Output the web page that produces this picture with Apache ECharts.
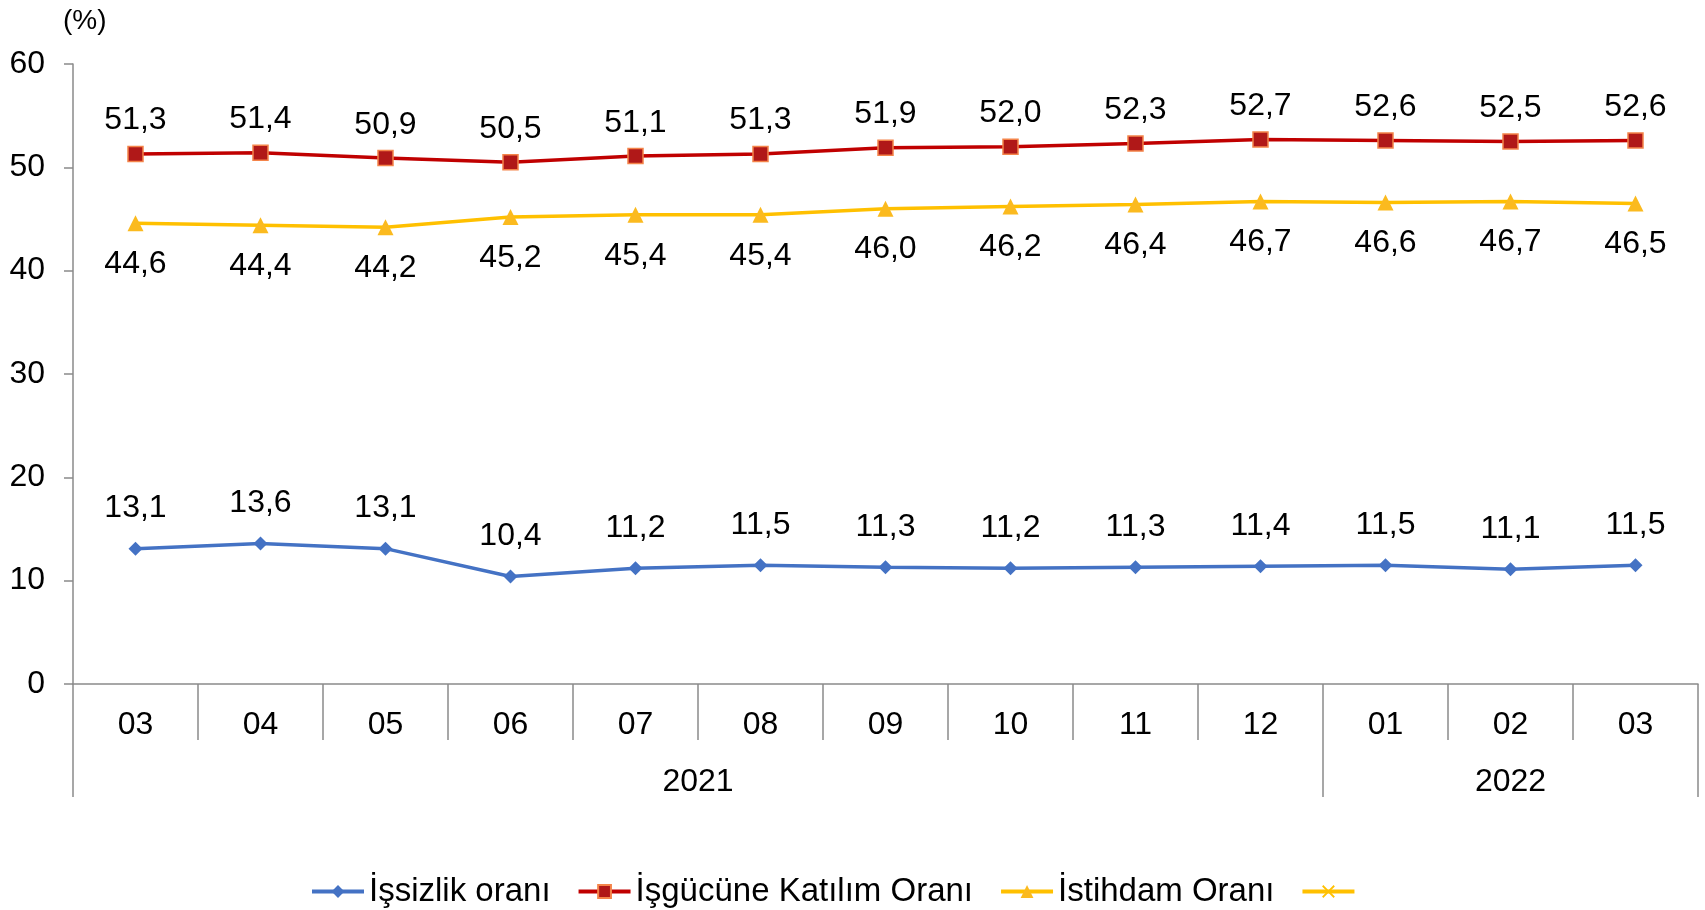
<!DOCTYPE html>
<html>
<head>
    <meta charset="utf-8">
    <script type="text/javascript" src="https://cdn.jsdelivr.net/npm/echarts@6/dist/echarts.min.js"></script>
    <style type="text/css">
        *{ margin: 0; padding: 0; }
        #main{ width: 1705px; height: 910px; background: #ffffff; }
    </style>
</head>
<body>
<div id="main"></div>
<script type="text/javascript">
    // aylar ve yıllar
    var months = ['03', '04', '05', '06', '07', '08', '09', '10', '11', '12', '01', '02', '03'];
    var years = {5: '2021', 11.5: '2022'};
    var yearTicksAt = 10;   // 2021 / 2022 sınırı

    var issizlik = [13.1, 13.6, 13.1, 10.4, 11.2, 11.5, 11.3, 11.2, 11.3, 11.4, 11.5, 11.1, 11.5];
    var katilim = [51.3, 51.4, 50.9, 50.5, 51.1, 51.3, 51.9, 52.0, 52.3, 52.7, 52.6, 52.5, 52.6];
    var istihdam = [44.6, 44.4, 44.2, 45.2, 45.4, 45.4, 46.0, 46.2, 46.4, 46.7, 46.6, 46.7, 46.5];

    var FONT = 'Liberation Sans';
    var AXIS_GRAY = '#8a8a8a';

    function fmt(p) {
        return p.value.toFixed(1).replace('.', ',');
    }
    var labelBase = { show: true, formatter: fmt, color: '#000', fontFamily: FONT, fontSize: 32 };

    var myChart = echarts.init(document.getElementById('main'));
    var option = {
        backgroundColor: '#ffffff',
        animation: false,
        textStyle: { fontFamily: FONT },
        title: {
            text: '(%)',
            left: 58, top: 2,
            textStyle: { fontFamily: FONT, fontSize: 28, fontWeight: 'normal', color: '#000' }
        },
        grid: { left: 73, right: 7, top: 64, bottom: 226 },
        legend: {
            left: 305, top: 870,
            itemWidth: 52, itemHeight: 16, itemGap: 26,
            lineStyle: { width: 4 },
            textStyle: { fontFamily: FONT, fontSize: 33, color: '#000' },
            data: ['İşsizlik oranı', 'İşgücüne Katılım Oranı', 'İstihdam Oranı', ' ']
        },
        xAxis: [
            {
                type: 'category',
                data: months,
                boundaryGap: true,
                axisLine: { lineStyle: { color: AXIS_GRAY, width: 1.5 } },
                axisTick: { show: true, length: 56, lineStyle: { color: AXIS_GRAY, width: 1.5 } },
                axisLabel: { color: '#000', fontSize: 32, fontFamily: FONT, margin: 25 }
            },
            {
                // yıl etiketleri
                type: 'value', position: 'bottom',
                min: 0, max: 13, interval: 0.5,
                axisLine: { show: false },
                axisTick: { show: false },
                splitLine: { show: false },
                axisLabel: {
                    color: '#000', fontSize: 32, fontFamily: FONT, margin: 82,
                    formatter: function (v) { return years[v] || ''; }
                }
            },
            {
                // yıl ayraçları
                type: 'value', position: 'bottom',
                min: 0, max: 13, interval: yearTicksAt,
                axisLine: { show: false },
                axisTick: { show: true, length: 113, lineStyle: { color: AXIS_GRAY, width: 1.5 } },
                splitLine: { show: false },
                axisLabel: { show: false }
            }
        ],
        yAxis: {
            type: 'value',
            min: 0, max: 60, interval: 10,
            axisLine: { show: true, lineStyle: { color: AXIS_GRAY, width: 1.5 } },
            axisTick: { show: true, length: 9, lineStyle: { color: AXIS_GRAY, width: 1.5 } },
            splitLine: { show: false },
            axisLabel: { color: '#000', fontSize: 32, fontFamily: FONT, margin: 28 }
        },
        series: [
            {
                name: 'İşsizlik oranı',
                type: 'line',
                data: issizlik,
                symbol: 'diamond', symbolSize: 14,
                lineStyle: { color: '#4472C4', width: 3.5 },
                itemStyle: { color: '#4472C4' },
                label: Object.assign({}, labelBase, { position: 'top', distance: 17 })
            },
            {
                name: 'İşgücüne Katılım Oranı',
                type: 'line',
                data: katilim,
                symbol: 'rect', symbolSize: 15,
                lineStyle: { color: '#C00000', width: 3.5 },
                itemStyle: { color: '#B01818', borderColor: '#F4844A', borderWidth: 1.5 },
                label: Object.assign({}, labelBase, { position: 'top', distance: 9 })
            },
            {
                name: 'İstihdam Oranı',
                type: 'line',
                data: istihdam,
                symbol: 'triangle', symbolSize: 16,
                lineStyle: { color: '#FFC000', width: 3.5 },
                itemStyle: { color: '#FBBA1F' },
                label: Object.assign({}, labelBase, { position: 'bottom', distance: 17 })
            },
            {
                name: ' ',
                type: 'line',
                data: [],
                symbol: 'path://M0,1L1,0L5,4L9,0L10,1L6,5L10,9L9,10L5,6L1,10L0,9L4,5Z',
                symbolSize: 13,
                lineStyle: { color: '#FFC000', width: 3.5 },
                itemStyle: { color: '#FFC000' }
            }
        ]
    };
    myChart.setOption(option);
</script>
</body>
</html>
